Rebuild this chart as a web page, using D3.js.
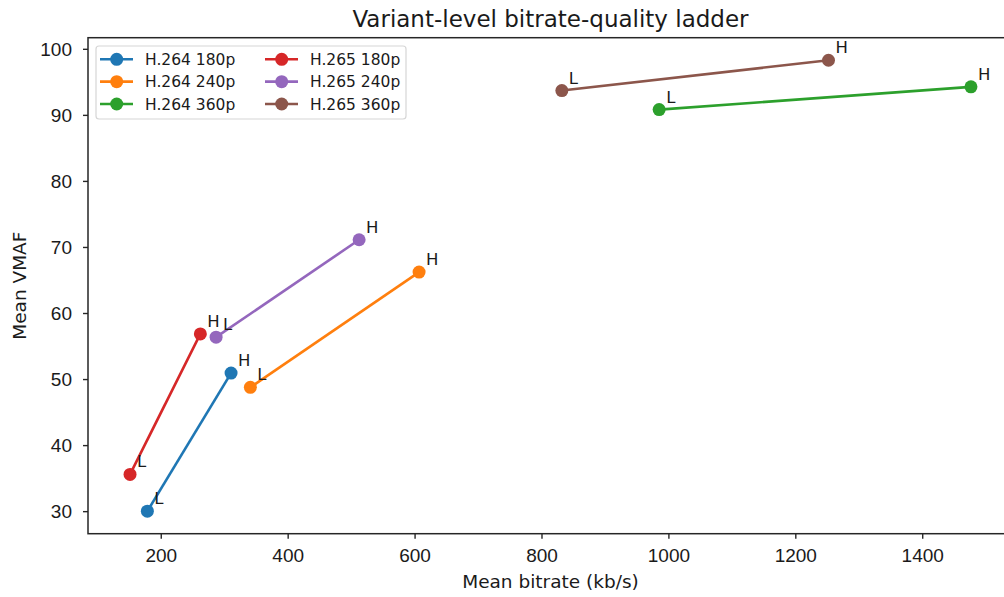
<!DOCTYPE html>
<html>
<head>
<meta charset="utf-8">
<script src="https://cdn.jsdelivr.net/npm/d3@7"></script>
<style>
  html, body { margin: 0; padding: 0; background: #fff; }
  svg { display: block; font-family: "DejaVu Sans", sans-serif; }
</style>
</head>
<body>
<svg id="chart" width="1004" height="597"></svg>
<script>
// ---- data ----
const seriesNames = ["H.264 180p", "H.264 240p", "H.264 360p", "H.265 180p", "H.265 240p", "H.265 360p"];
const seriesColors = ["#1f77b4", "#ff7f0e", "#2ca02c", "#d62728", "#9467bd", "#8c564b"];
const lowBitrate  = [178.9, 341.2, 985.4, 151.6, 287.2, 832.1];
const lowVmaf     = [30.0, 48.75, 90.8, 35.56, 56.34, 93.68];
const highBitrate = [310.8, 607.1, 1476.8, 262.4, 512.6, 1252.3];
const highVmaf    = [50.9, 66.2, 94.24, 56.84, 71.09, 98.27];
const pointLabels = ["L", "H"];
const xTicks = [200, 400, 600, 800, 1000, 1200, 1400];
const yTicks = [30, 40, 50, 60, 70, 80, 90, 100];
const titleText = "Variant-level bitrate-quality ladder";
const xLabelText = "Mean bitrate (kb/s)";
const yLabelText = "Mean VMAF";

// ---- layout ----
const svg = d3.select("#chart");
const plotLeft = 88, plotTop = 37.7, plotW = 925, plotH = 496;
const textColor = "#1a1a1a";

const series = seriesNames.map((name, i) => ({
  name, color: seriesColors[i],
  pts: [
    { x: lowBitrate[i], y: lowVmaf[i], lab: pointLabels[0] },
    { x: highBitrate[i], y: highVmaf[i], lab: pointLabels[1] }
  ]
}));

const allX = lowBitrate.concat(highBitrate);
const allY = lowVmaf.concat(highVmaf);
const [xmin, xmax] = d3.extent(allX);
const [ymin, ymax] = d3.extent(allY);
const xm = (xmax - xmin) * 0.05, ym = (ymax - ymin) * 0.05;

const x = d3.scaleLinear().domain([xmin - xm, xmax + xm]).range([plotLeft, plotLeft + plotW]);
const y = d3.scaleLinear().domain([ymin - ym, ymax + ym]).range([plotTop + plotH, plotTop]);

// axes
const xAxis = d3.axisBottom(x).tickValues(xTicks).tickSize(5).tickPadding(6).tickFormat(d3.format("d"));
const yAxis = d3.axisLeft(y).tickValues(yTicks).tickSize(5).tickPadding(6).tickFormat(d3.format("d"));

const gx = svg.append("g").attr("transform", `translate(0,${plotTop + plotH})`).call(xAxis);
const gy = svg.append("g").attr("transform", `translate(${plotLeft},0)`).call(yAxis);
[gx, gy].forEach(g => {
  g.select(".domain").remove();
  g.selectAll(".tick line").attr("stroke", "#262626").attr("stroke-width", 1.4);
  g.selectAll(".tick text").attr("fill", textColor).style("font-size", "19px");
});
gx.selectAll(".tick text").attr("dy", "0.92em");
gy.selectAll(".tick text").attr("dy", "0.36em").attr("x", -16);

// spines
svg.append("rect")
  .attr("x", plotLeft).attr("y", plotTop).attr("width", plotW).attr("height", plotH)
  .attr("fill", "none").attr("stroke", "#262626").attr("stroke-width", 1.5);

// lines
const line = d3.line().x(d => x(d.x)).y(d => y(d.y));
const sg = svg.append("g").selectAll("g").data(series).join("g");
sg.append("path")
  .attr("d", d => line(d.pts))
  .attr("fill", "none").attr("stroke", d => d.color).attr("stroke-width", 2.6);
sg.selectAll("circle").data(d => d.pts.map(p => ({ ...p, color: d.color })))
  .join("circle")
  .attr("cx", d => x(d.x)).attr("cy", d => y(d.y)).attr("r", 6.5)
  .attr("fill", d => d.color);
sg.selectAll("text").data(d => d.pts)
  .join("text")
  .attr("x", d => x(d.x) + 7).attr("y", d => y(d.y) - 7)
  .attr("fill", textColor).style("font-size", "16.5px")
  .text(d => d.lab);

// title & axis labels
svg.append("text").attr("x", plotLeft + plotW / 2).attr("y", 26.5)
  .attr("text-anchor", "middle").attr("fill", textColor).style("font-size", "23px")
  .text(titleText);
svg.append("text").attr("x", plotLeft + plotW / 2).attr("y", 588)
  .attr("text-anchor", "middle").attr("fill", textColor).style("font-size", "18.5px")
  .text(xLabelText);
svg.append("text").attr("transform", `translate(26,${plotTop + plotH / 2}) rotate(-90)`)
  .attr("text-anchor", "middle").attr("fill", textColor).style("font-size", "18.5px")
  .text(yLabelText);

// legend
const lg = svg.append("g");
lg.append("rect").attr("x", 96).attr("y", 46).attr("width", 310).attr("height", 73)
  .attr("rx", 3).attr("fill", "#fff").attr("fill-opacity", 0.8)
  .attr("stroke", "#d6d6d6").attr("stroke-width", 1.2);
series.forEach((s, i) => {
  const col = Math.floor(i / 3), row = i % 3;
  const hx = 100 + col * 165, ty = 59.3 + row * 22.35;
  lg.append("line").attr("x1", hx).attr("x2", hx + 33).attr("y1", ty).attr("y2", ty)
    .attr("stroke", s.color).attr("stroke-width", 2.6);
  lg.append("circle").attr("cx", hx + 16.7).attr("cy", ty).attr("r", 6.5).attr("fill", s.color);
  lg.append("text").attr("x", hx + 45).attr("y", ty).attr("dy", "0.36em")
    .attr("fill", textColor).style("font-size", "15.5px").text(s.name);
});
</script>
</body>
</html>
